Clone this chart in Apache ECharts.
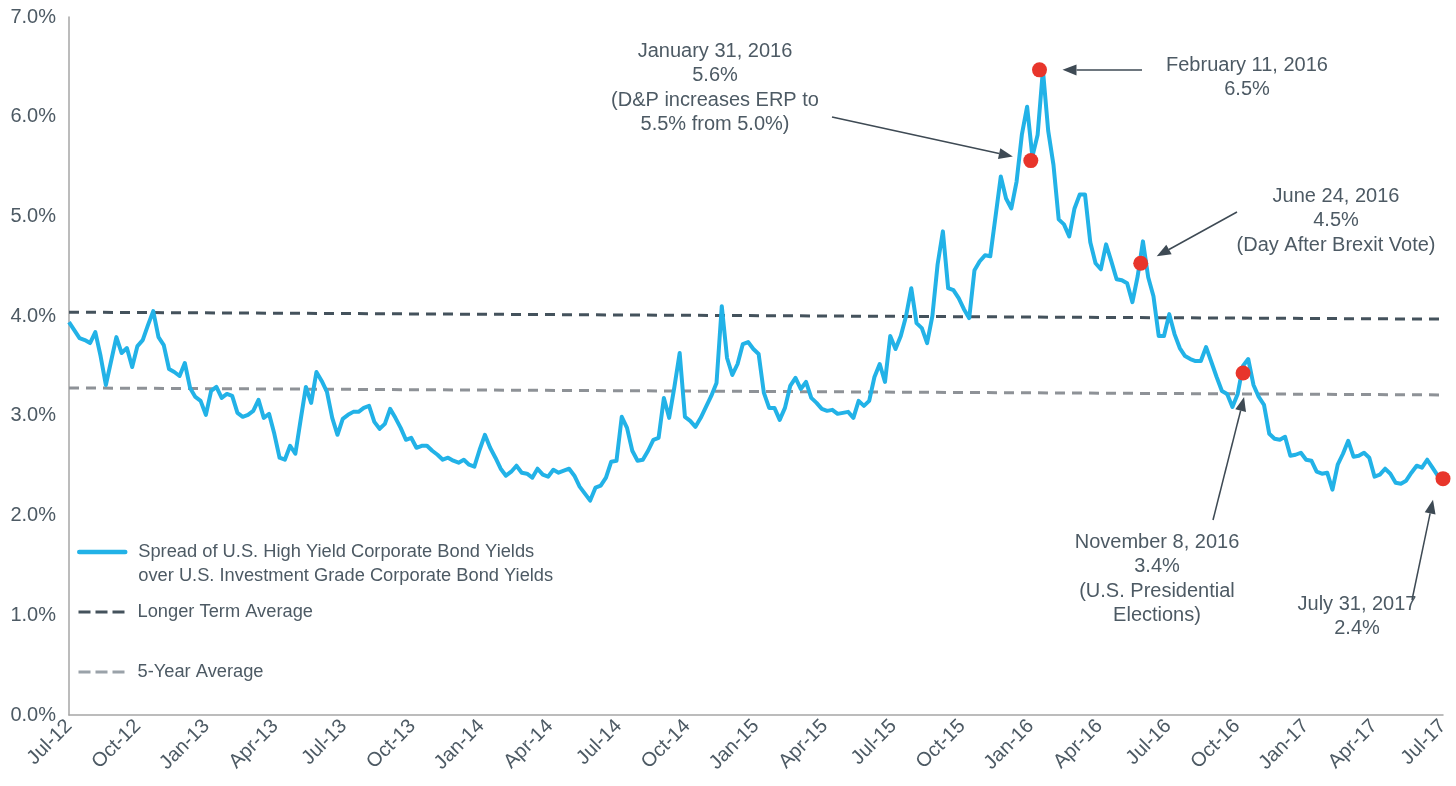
<!DOCTYPE html>
<html>
<head>
<meta charset="utf-8">
<script src="https://cdn.jsdelivr.net/npm/echarts@6/dist/echarts.min.js"></script>
<style>
  html, body { margin: 0; background: #fff; }
  #chart { width: 1456px; height: 786px; }
</style>
</head>
<body>
<div id="chart"></div>
<script>
// quarterly tick labels, one every 3 months from Jul 31 2012
const quarterLabels = ['Jul-12', 'Oct-12', 'Jan-13', 'Apr-13', 'Jul-13', 'Oct-13', 'Jan-14', 'Apr-14',
  'Jul-14', 'Oct-14', 'Jan-15', 'Apr-15', 'Jul-15', 'Oct-15', 'Jan-16', 'Apr-16',
  'Jul-16', 'Oct-16', 'Jan-17', 'Apr-17', 'Jul-17']

// weekly HY - IG spread (%), Jul 31 2012 .. Jul 31 2017
const spread = [
  3.94, 3.86, 3.78, 3.76, 3.73, 3.84, 3.60, 3.31, 3.55, 3.79,
  3.63, 3.68, 3.49, 3.70, 3.76, 3.91, 4.05, 3.79, 3.71, 3.47,
  3.44, 3.40, 3.53, 3.28, 3.19, 3.15, 3.01, 3.25, 3.29, 3.18,
  3.22, 3.20, 3.03, 2.99, 3.01, 3.05, 3.16, 2.98, 3.02, 2.82,
  2.58, 2.56, 2.70, 2.62, 2.96, 3.29, 3.13, 3.44, 3.35, 3.24,
  2.98, 2.81, 2.97, 3.01, 3.04, 3.04, 3.08, 3.10, 2.94, 2.87,
  2.92, 3.07, 2.98, 2.88, 2.76, 2.78, 2.68, 2.70, 2.70, 2.65,
  2.61, 2.56, 2.58, 2.55, 2.53, 2.56, 2.51, 2.49, 2.66, 2.81,
  2.68, 2.58, 2.47, 2.40, 2.44, 2.50, 2.43, 2.42, 2.38, 2.47,
  2.41, 2.39, 2.46, 2.43, 2.45, 2.47, 2.40, 2.29, 2.22, 2.15,
  2.28, 2.30, 2.38, 2.54, 2.55, 2.99, 2.88, 2.65, 2.55, 2.56,
  2.65, 2.76, 2.78, 3.18, 2.98, 3.29, 3.63, 2.99, 2.95, 2.89,
  2.98, 3.09, 3.20, 3.33, 4.10, 3.58, 3.41, 3.52, 3.72, 3.74,
  3.67, 3.62, 3.23, 3.08, 3.08, 2.96, 3.08, 3.30, 3.38, 3.27,
  3.34, 3.18, 3.13, 3.07, 3.05, 3.06, 3.02, 3.03, 3.04, 2.98,
  3.15, 3.10, 3.15, 3.39, 3.52, 3.34, 3.80, 3.67, 3.80, 4.00,
  4.28, 3.93, 3.88, 3.73, 4.00, 4.52, 4.85, 4.28, 4.26, 4.18,
  4.07, 3.98, 4.46, 4.55, 4.61, 4.60, 5.00, 5.40, 5.18, 5.08,
  5.35, 5.82, 6.10, 5.60, 5.82, 6.47, 5.86, 5.52, 4.97, 4.92,
  4.80, 5.08, 5.22, 5.22, 4.74, 4.53, 4.47, 4.72, 4.55, 4.37,
  4.36, 4.33, 4.14, 4.40, 4.75, 4.39, 4.20, 3.80, 3.80, 4.02,
  3.82, 3.68, 3.60, 3.57, 3.55, 3.55, 3.69, 3.54, 3.39, 3.25,
  3.22, 3.09, 3.22, 3.50, 3.57, 3.31, 3.19, 3.11, 2.82, 2.77,
  2.76, 2.79, 2.60, 2.61, 2.63, 2.56, 2.55, 2.44, 2.42, 2.43,
  2.26, 2.51, 2.62, 2.75, 2.59, 2.60, 2.63, 2.58, 2.39, 2.41,
  2.47, 2.42, 2.33, 2.32, 2.35, 2.43, 2.50, 2.48, 2.56, 2.48,
  2.40, 2.37
]

// averages at start and end of the window
const longTermAvg = [4.04, 3.97]
const fiveYearAvg = [3.28, 3.21]

// highlighted dates (months after Jul 31 2012) and values
const eventMonths = [42, 42.38, 46.8, 51.27, 60]
const eventValues = [5.56, 6.47, 4.53, 3.43, 2.37]
const eventNotes = [
  ['January 31, 2016', '5.6%', '(D&P increases ERP to', '5.5% from 5.0%)'],
  ['February 11, 2016', '6.5%'],
  ['June 24, 2016', '4.5%', '(Day After Brexit Vote)'],
  ['November 8, 2016', '3.4%', '(U.S. Presidential', 'Elections)'],
  ['July 31, 2017', '2.4%']
]

const SPREAD_NAME = 'Spread of U.S. High Yield Corporate Bond Yields\nover U.S. Investment Grade Corporate Bond Yields'
const LONG_NAME = 'Longer Term Average'
const FIVE_NAME = '5-Year Average'

const FONT = 'Liberation Sans, Arial, sans-serif'
const TEXT = '#4d5a64'
const ARROW = '#3e4a54'
const BLUE = '#22b2e7'
const DARK = '#44525c'
const GREY = '#8e9297'

// annotation layout (pixels): text anchor, arrow tail, arrow tip offset from the dot
const noteLayout = [
  { x: 715, y: 39, tail: [832, 117], tip: [-18, -4] },
  { x: 1247, y: 53, tail: [1142, 70], tip: [23, 0] },
  { x: 1336, y: 184, tail: [1237, 212], tip: [16, -7] },
  { x: 1157, y: 530, tail: [1213, 520], tip: [1, 24] },
  { x: 1357, y: 592, tail: [1412, 600], tip: [-10, 21] }
]

const chart = echarts.init(document.getElementById('chart'))

const lastIdx = spread.length - 1
const legendBase = {
  orient: 'vertical',
  left: 77,
  padding: 0,
  itemWidth: 46,
  itemHeight: 14,
  itemStyle: { opacity: 0 },
  textStyle: { color: TEXT, fontSize: 18.3, fontFamily: FONT, lineHeight: 24, padding: [0, 0, 0, 8] }
}

chart.setOption({
  animation: false,
  grid: { left: 69, right: 13, top: 17, bottom: 71 },
  legend: [
    // leading blank line keeps the icon level with the first text line
    Object.assign({}, legendBase, {
      top: 516, data: [SPREAD_NAME], formatter: name => '\n' + name,
      lineStyle: { width: 4.5, cap: 'round' }
    }),
    Object.assign({}, legendBase, {
      top: 600, data: [LONG_NAME],
      lineStyle: { width: 3, type: [12, 5] }
    }),
    Object.assign({}, legendBase, {
      top: 660, data: [FIVE_NAME],
      lineStyle: { width: 3, type: [12, 5], color: '#9aa2a9' }
    })
  ],
  xAxis: {
    type: 'value',
    min: 0,
    max: 60,
    interval: 3,
    axisLine: { lineStyle: { color: '#a6a6a6', width: 1.5 } },
    axisTick: { show: false },
    splitLine: { show: false },
    axisLabel: {
      rotate: 45,
      margin: 8,
      color: TEXT,
      fontSize: 20,
      fontFamily: FONT,
      formatter: v => quarterLabels[Math.round(v / 3)]
    }
  },
  yAxis: {
    type: 'value',
    min: 0,
    max: 7,
    interval: 1,
    axisLine: { show: true, lineStyle: { color: '#a6a6a6', width: 1.5 } },
    axisTick: { show: false },
    splitLine: { show: false },
    axisLabel: {
      margin: 13,
      color: TEXT,
      fontSize: 20,
      fontFamily: FONT,
      formatter: v => v.toFixed(1) + '%'
    }
  },
  series: [
    {
      name: LONG_NAME,
      type: 'line',
      symbol: 'none',
      data: [[0, longTermAvg[0]], [60, longTermAvg[1]]],
      lineStyle: { color: DARK, width: 3, type: [10, 7] },
      itemStyle: { color: DARK },
      z: 2
    },
    {
      name: FIVE_NAME,
      type: 'line',
      symbol: 'none',
      data: [[0, fiveYearAvg[0]], [60, fiveYearAvg[1]]],
      lineStyle: { color: GREY, width: 3, type: [10, 7] },
      itemStyle: { color: GREY },
      z: 2
    },
    {
      name: SPREAD_NAME,
      type: 'line',
      symbol: 'none',
      data: spread.map((v, i) => [i * 60 / lastIdx, v]),
      lineStyle: { color: BLUE, width: 4, join: 'round' },
      itemStyle: { color: BLUE },
      z: 3
    },
    {
      name: 'events',
      type: 'scatter',
      symbolSize: 15,
      data: eventMonths.map((m, i) => [m, eventValues[i]]),
      itemStyle: { color: '#e8352b', opacity: 1 },
      z: 5
    }
  ]
})

// annotation texts and arrows
const graphics = []
eventNotes.forEach((lines, i) => {
  const lay = noteLayout[i]
  graphics.push({
    type: 'text',
    x: lay.x,
    y: lay.y,
    style: {
      text: lines.join('\n'),
      align: 'center',
      verticalAlign: 'top',
      fontSize: 20,
      fontFamily: FONT,
      lineHeight: 24.5,
      fill: TEXT
    }
  })
  const dot = chart.convertToPixel({ gridIndex: 0 }, [eventMonths[i], eventValues[i]])
  const tx = dot[0] + lay.tip[0]
  const ty = dot[1] + lay.tip[1]
  const ang = Math.atan2(ty - lay.tail[1], tx - lay.tail[0])
  const len = 14, half = 5.5
  const bx = tx - len * Math.cos(ang)
  const by = ty - len * Math.sin(ang)
  graphics.push({
    type: 'line',
    shape: { x1: lay.tail[0], y1: lay.tail[1], x2: bx, y2: by },
    style: { stroke: ARROW, lineWidth: 1.5 }
  })
  graphics.push({
    type: 'polygon',
    shape: {
      points: [
        [tx, ty],
        [bx - half * Math.sin(ang), by + half * Math.cos(ang)],
        [bx + half * Math.sin(ang), by - half * Math.cos(ang)]
      ]
    },
    style: { fill: ARROW }
  })
})
chart.setOption({ graphic: graphics })

window.addEventListener('resize', () => chart.resize())
</script>
</body>
</html>
